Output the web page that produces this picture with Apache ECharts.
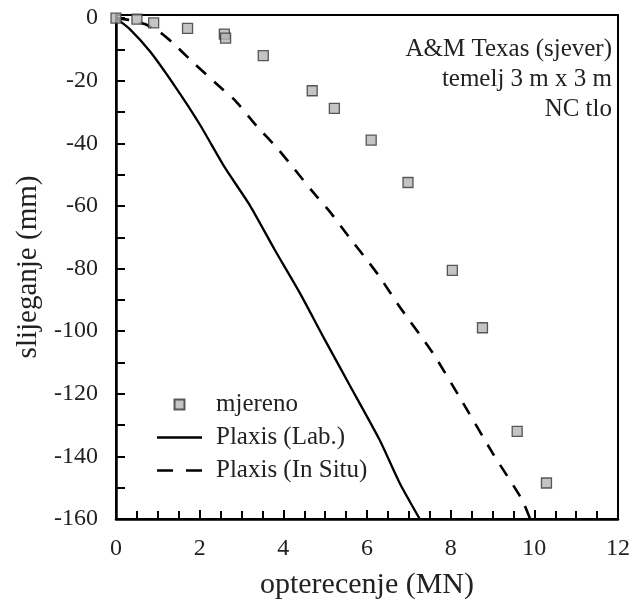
<!DOCTYPE html>
<html>
<head>
<meta charset="utf-8">
<script src="https://cdn.jsdelivr.net/npm/echarts@6/dist/echarts.min.js"></script>
<style>html,body{margin:0;padding:0;background:#fff}#c{width:633px;height:605px}</style>
</head>
<body>
<div id="c"></div>
<script>
// measured ("mjereno") points: load (MN), settlement (mm)
var measLoad = [0, 0.5, 0.9, 1.71, 2.59, 2.62, 3.52, 4.69, 5.22, 6.1, 6.98, 8.04, 8.76, 9.59, 10.29];
var measSettl = [0, -0.3, -1.5, -3.3, -5.1, -6.4, -12, -23.2, -28.8, -39, -52.5, -80.6, -98.9, -132, -148.5];
// Plaxis (Lab.)
var labLoad = [0, 0.33, 0.81, 1.41, 2.0, 2.6, 3.2, 3.79, 4.39, 4.99, 5.58, 6.30, 6.78, 7.26];
var labSettl = [0, -3.5, -10.6, -21.8, -33.9, -47.7, -59.8, -73.9, -87.7, -102.7, -117.1, -134.7, -148.5, -160];
// Plaxis (In Situ)
var situLoad = [0, 0.33, 0.69, 1.05, 1.34, 1.84, 2.36, 2.84, 3.37, 3.84, 4.27, 4.70, 5.11, 5.58, 5.99, 6.30, 6.78, 7.57, 8.21, 9.0, 9.71, 9.9];
var situSettl = [0, -0.6, -1.9, -4.5, -7.7, -14.1, -20.5, -26.2, -34.6, -41.3, -48.3, -55.4, -61.8, -70.1, -77.1, -82.6, -92.2, -106.9, -121.0, -138.9, -153.9, -160];
var seriesNames = ['mjereno', 'Plaxis (Lab.)', 'Plaxis (In Situ)'];
var annotation = ['A&M Texas (sjever)', 'temelj 3 m x 3 m', 'NC tlo'];
var xTitle = 'opterecenje (MN)';
var yTitle = 'slijeganje (mm)';

function zip(a, b) { return a.map(function (v, i) { return [v, b[i]]; }); }
var FONT = "'Liberation Serif', 'Times New Roman', Times, serif";

var chart = echarts.init(document.getElementById('c'), null, {renderer: 'canvas'});
chart.setOption({
  animation: false,
  backgroundColor: '#fff',
  textStyle: {fontFamily: FONT},
  grid: {left: 116, right: 14, top: 15, bottom: 86, show: true, borderColor: '#000', borderWidth: 2, backgroundColor: 'transparent'},
  title: annotation.map(function (t, i) {
    return {
      text: t, right: 21, top: 37 + i * 30, padding: 0,
      textStyle: {fontFamily: FONT, fontSize: 25, fontWeight: 'normal', color: '#222'}
    };
  }),
  legend: {
    orient: 'vertical',
    left: 152, top: 387,
    itemWidth: 45, itemHeight: 10, itemGap: 8,
    symbolKeepAspect: true,
    textStyle: {fontFamily: FONT, fontSize: 25, color: '#222', padding: [0, 0, 0, 9]},
    data: [
      {name: seriesNames[0], icon: 'path://M0,0H10V10H0Z'},
      {name: seriesNames[1], icon: 'path://M0,0H45V2.4H0Z'},
      {name: seriesNames[2], icon: 'path://M0,0H16V2.6H0ZM29,0H45V2.6H29Z'}
    ]
  },
  xAxis: {
    type: 'value', min: 0, max: 12, interval: 2,
    name: xTitle, nameLocation: 'middle', nameGap: 51,
    nameTextStyle: {fontFamily: FONT, fontSize: 30, color: '#222'},
    axisLine: {onZero: false, lineStyle: {color: '#000', width: 2.5}},
    axisTick: {inside: true, length: 9, lineStyle: {color: '#000', width: 2}},
    minorTick: {show: true, splitNumber: 4, length: 8, lineStyle: {color: '#000', width: 2}},
    splitLine: {show: false},
    axisLabel: {fontFamily: FONT, fontSize: 24, color: '#222', margin: 18}
  },
  yAxis: {
    type: 'value', min: -160, max: 1, interval: 20,
    name: yTitle, nameLocation: 'middle', nameGap: 71,
    nameTextStyle: {fontFamily: FONT, fontSize: 29, color: '#222'},
    axisLine: {onZero: false, lineStyle: {color: '#000', width: 2.5}},
    axisTick: {inside: true, length: 9, lineStyle: {color: '#000', width: 2}},
    minorTick: {show: true, splitNumber: 2, length: 9, lineStyle: {color: '#000', width: 2}},
    splitLine: {show: false},
    axisLabel: {fontFamily: FONT, fontSize: 24, color: '#222', margin: 18, showMaxLabel: false}
  },
  series: [
    {
      name: seriesNames[0], type: 'scatter', data: zip(measLoad, measSettl), z: 5,
      symbol: 'rect', symbolSize: 10,
      itemStyle: {color: '#b5b5b5', borderColor: '#333', borderWidth: 1.3}
    },
    {
      name: seriesNames[1], type: 'line', data: zip(labLoad, labSettl),
      symbol: 'none', showSymbol: false, smooth: 0.2,
      lineStyle: {color: '#000', width: 2.3, type: 'solid'},
      itemStyle: {color: '#000'}
    },
    {
      name: seriesNames[2], type: 'line', data: zip(situLoad, situSettl),
      symbol: 'none', showSymbol: false, smooth: 0.2,
      lineStyle: {color: '#000', width: 2.6, type: [13, 11]},
      itemStyle: {color: '#000'}
    }
  ]
});
</script>
</body>
</html>
